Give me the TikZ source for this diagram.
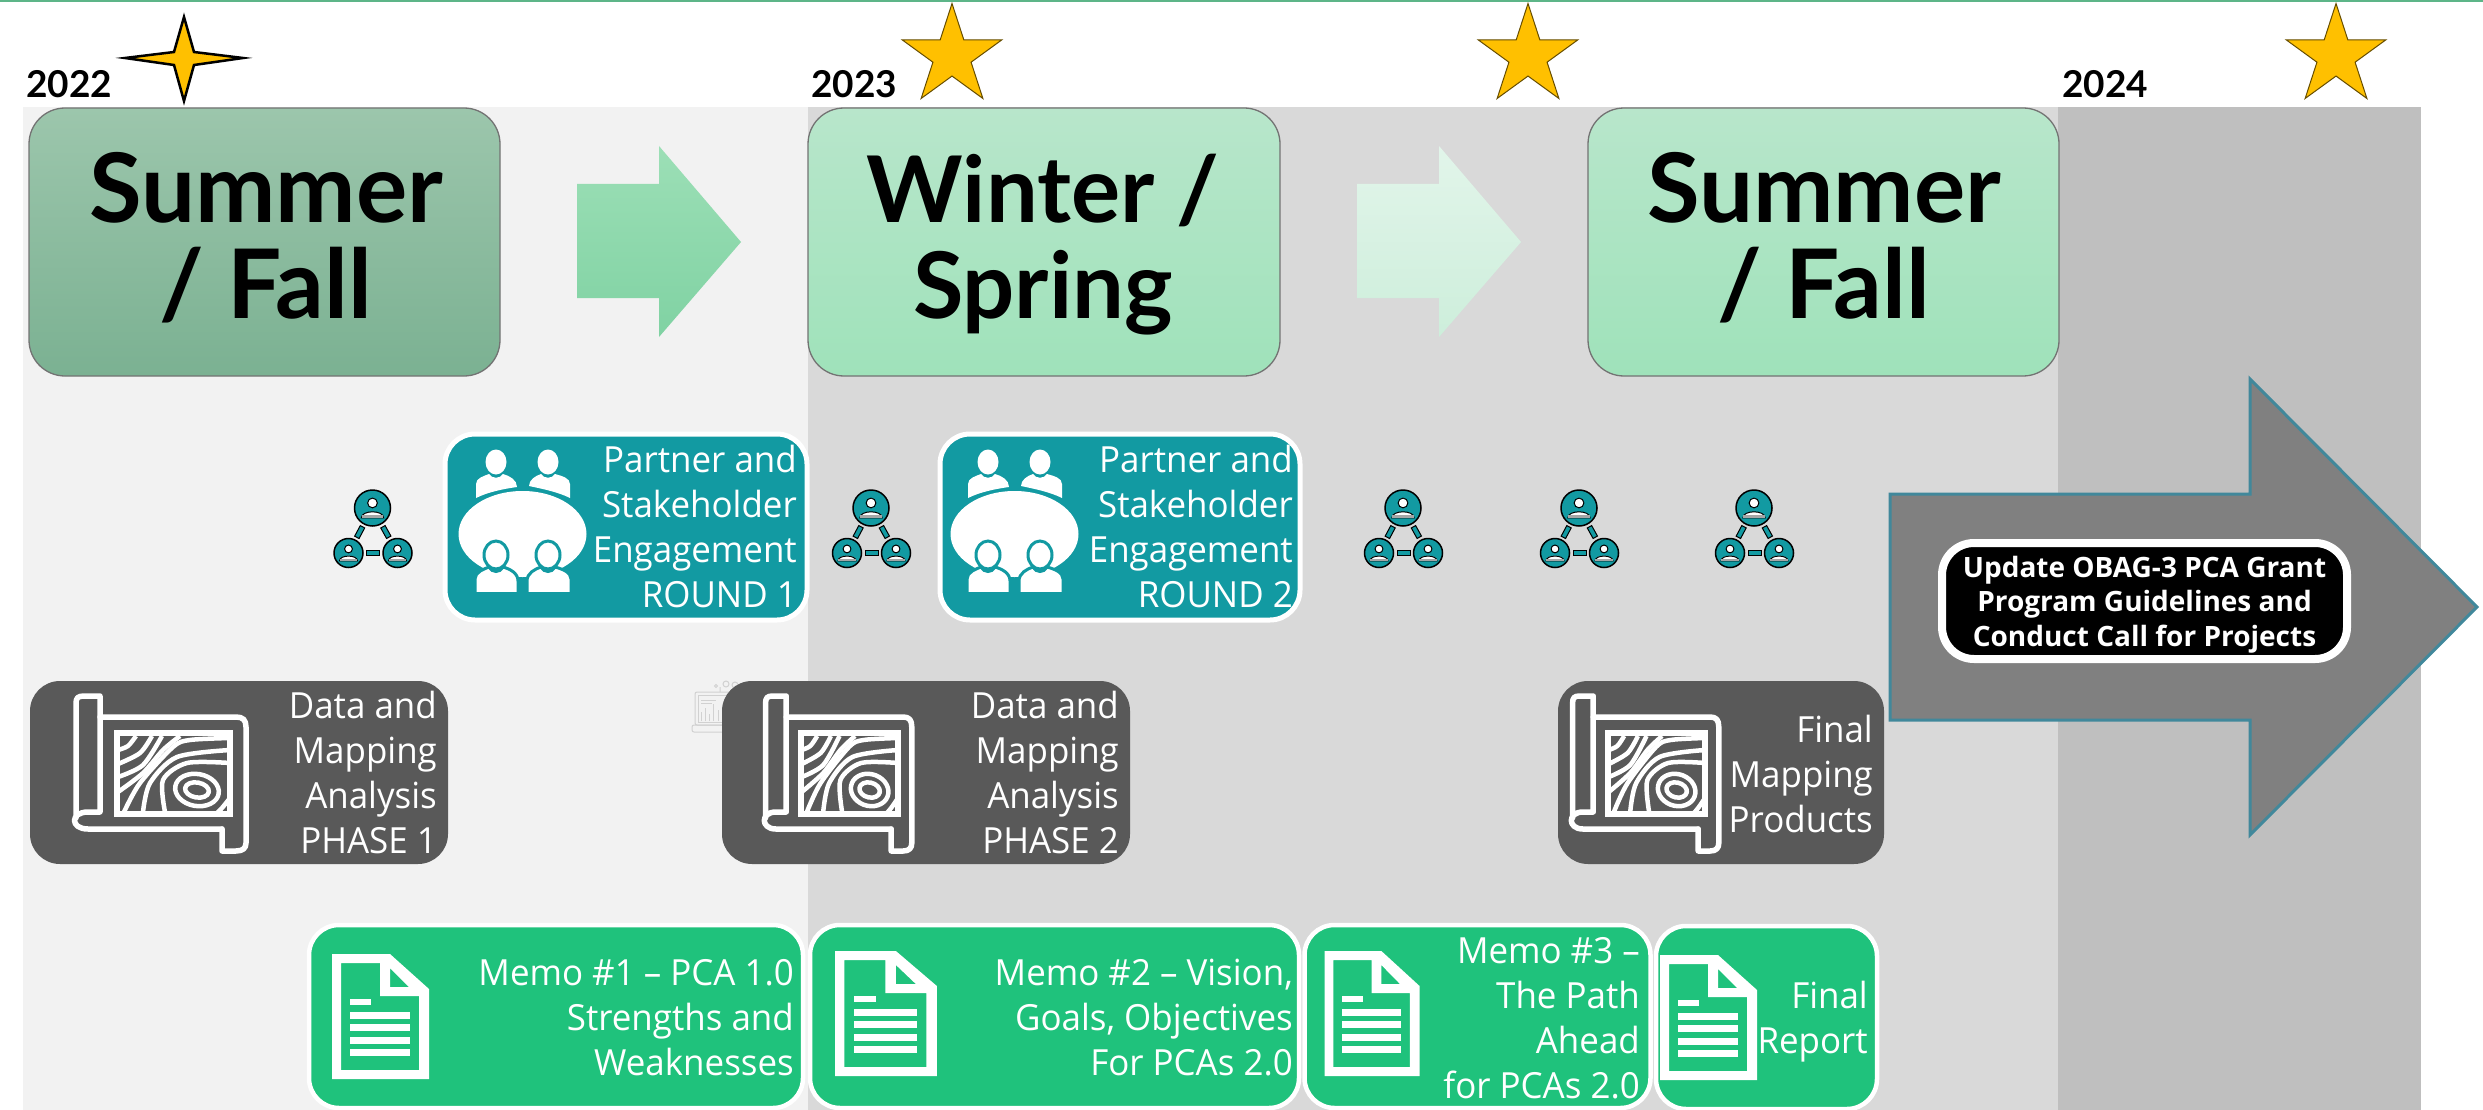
\documentclass[tikz,border=0pt]{standalone}
\usepackage{fontspec}
\setmainfont[FakeStretch=0.97]{Open Sans}
\newfontfamily\callfont{Open Sans}
\newfontfamily\titlefont{Lato}
\usetikzlibrary{shapes.geometric,calc}
\definecolor{teal1}{HTML}{129AA2}
\definecolor{gray1}{HTML}{595959}
\definecolor{green1}{HTML}{1FC27C}
\definecolor{panelA}{HTML}{F2F2F2}
\definecolor{panelB}{HTML}{D9D9D9}
\definecolor{panelC}{HTML}{BFBFBF}
\definecolor{goldstar}{HTML}{FFC000}
\definecolor{rule1}{HTML}{5DB588}
\definecolor{darkA}{HTML}{9CC6AC}
\definecolor{darkB}{HTML}{7BB192}
\definecolor{lightA}{HTML}{B8E6CB}
\definecolor{lightB}{HTML}{9FE2BA}
\definecolor{arrA}{HTML}{9CDFB6}
\definecolor{arrB}{HTML}{80D2A3}
\definecolor{arrC}{HTML}{E2F5EA}
\definecolor{arrD}{HTML}{CDEEDB}
\definecolor{arrowgray}{HTML}{808080}
\definecolor{arrowline}{HTML}{41889B}
\tikzset{
  x=1pt,y=-1pt,
  season/.style={draw=#1,anchor=north west,inner sep=0,outer sep=0,rounded corners=36pt,line width=1.3pt},
  tealbox/.style={draw=white,fill=teal1,line width=5pt,anchor=north west,inner sep=0,outer sep=0,rounded corners=30pt},
  graybox/.style={draw=none,fill=gray1,anchor=north west,inner sep=0,outer sep=0,rounded corners=30pt},
  greenbox/.style={draw=white,fill=green1,line width=4.5pt,anchor=north west,inner sep=0,outer sep=0,rounded corners=30pt},
  blackbox/.style={draw=white,fill=black,line width=8pt,anchor=north west,inner sep=0,outer sep=0,rounded corners=32pt},
  bodytext/.style={text=white,anchor=base east,inner sep=0,align=right,font=\fontsize{36}{45}\selectfont},
  titletext/.style={text=black,anchor=base,inner sep=0,align=center,font=\titlefont\bfseries\fontsize{96}{96}\selectfont},
  yeartext/.style={text=black,anchor=base west,inner sep=0,font=\titlefont\bfseries\fontsize{37}{37}\selectfont},
  fivestar/.style={star,star points=5,star point ratio=2.618,minimum size=105pt,inner sep=0,outer sep=0,fill=goldstar,draw=black!60!goldstar,line width=1pt},
  netc/.style={circle,fill=teal1,draw=black,line width=1.5pt,inner sep=0},
  netl/.style={rectangle,fill=teal1,draw=black,line width=1pt,minimum width=#1,minimum height=5pt,inner sep=0,sloped,midway},
}
\newcommand{\personmark}[3]{%
  \fill[white,draw=black,line width=1pt] (#1,#2-#3*0.28) circle[radius=#3*0.27];
  \fill[white,draw=black,line width=1pt] (#1-#3*0.62,#2+#3*0.55) .. controls (#1-#3*0.62,#2+#3*0.1) and (#1+#3*0.62,#2+#3*0.1) .. (#1+#3*0.62,#2+#3*0.55) -- cycle;
  \fill[black!35] (#1-#3*0.6,#2+#3*0.4) rectangle (#1+#3*0.6,#2+#3*0.55);
}
\newcommand{\neticon}[2]{%
  \node[netc,minimum size=36pt] (#1t) at (#2,508) {};
  \node[netc,minimum size=29pt] (#1l) at (#2-24,553) {};
  \node[netc,minimum size=29pt] (#1r) at (#2+25,553) {};
  \path (#1t) -- (#1l) node[netl=12pt] (#1a) {};
  \path (#1t) -- (#1r) node[netl=12pt] (#1b) {};
  \path (#1l) -- (#1r) node[netl=13pt] (#1c) {};
  \personmark{#2}{508}{18}
  \personmark{#2-24}{553}{14.5}
  \personmark{#2+25}{553}{14.5}
}
\newcommand{\meeting}[2]{%
  \begin{scope}[shift={(#1-443,#2-432)}]
    \fill[white] (496,462) circle[x radius=10.5,y radius=12.5];
    \fill[white] (548,462) circle[x radius=10.5,y radius=12.5];
    \fill[white] (476,498) -- (476,484) .. controls (476,478) and (484,476) .. (489,474) .. controls (492,479) and (500,479) .. (503,474) .. controls (510,476) and (517,480) .. (517,487) .. controls (503,489) and (488,492) .. cycle;
    \fill[white] (570,498) -- (570,484) .. controls (570,478) and (562,476) .. (555,474) .. controls (552,479) and (544,479) .. (541,474) .. controls (535,476) and (529,480) .. (529,486) .. controls (543,489) and (558,492) .. cycle;
    \fill[white] (522.5,534) circle[x radius=64,y radius=43];
    \foreach \cx in {496,548}{
      \fill[white,draw=teal1,line width=3pt] (\cx,555) circle[x radius=12,y radius=14];
    }
    \fill[white,draw=teal1,line width=3pt] (475,594) -- (475,579) .. controls (475,572) and (484,569) .. (489,567) .. controls (492,573) and (500,573) .. (503,567) .. controls (510,569) and (518,573) .. (518,581) -- (518,594) -- cycle;
    \fill[white,draw=teal1,line width=3pt] (527,594) -- (527,581) .. controls (527,573) and (535,569) .. (541,567) .. controls (544,573) and (552,573) .. (555,567) .. controls (562,569) and (571,572) .. (571,579) -- (571,594) -- cycle;
    \fill[teal1] (470,592) rectangle (580,597);
  \end{scope}
}
% #1 left x, #2 top y, #3 horizontal scale
\newcommand{\mapicon}[3]{%
  \begin{scope}[shift={(#1,#2)},xscale=#3,shift={(-73,-693)},white,line width=5.5pt,line join=round,line cap=round]
    \draw (76,818) -- (76,703) .. controls (76,698) and (78,696) .. (84,696) -- (100,696) -- (100,812) -- (88,812) .. controls (70,812) and (70,829) .. (88,829) -- (222,829);
    \draw (100,717) -- (236,717) .. controls (243,717) and (246,720) .. (246,727) -- (246,843) .. controls (246,848) and (243,851) .. (236,851) -- (222,851) -- (222,829);
    \begin{scope}
      \clip (117,733) rectangle (230,814);
      \begin{scope}[line width=4.5pt,line cap=butt]
        \draw plot[smooth] coordinates {(118,750) (128,746) (136,736)};
        \draw plot[smooth] coordinates {(118,764) (140,753) (152,736)};
        \draw plot[smooth] coordinates {(118,777) (143,765) (162,736)};
        \draw plot[smooth] coordinates {(118,792) (143,773) (163,750) (180,736)};
        \draw plot[smooth] coordinates {(124,812) (140,783) (173,747) (190,740) (230,738)};
        \draw plot[smooth] coordinates {(143,812) (150,783) (177,757) (230,750)};
        \draw plot[smooth] coordinates {(165,812) (163,780) (187,763) (230,763)};
        \draw plot[smooth] coordinates {(230,798) (222,808) (216,814)};
        \draw[rotate around={-10:(197,790)}] (197,790) circle[x radius=22,y radius=16];
        \draw[rotate around={-10:(197,790)}] (197,790) circle[x radius=12,y radius=7.5];
      \end{scope}
    \end{scope}
    \draw[line cap=butt,line join=miter] (117,733) rectangle (230,814);
  \end{scope}
}
\newcommand{\docicon}[4]{%
  \begin{scope}[shift={(#1,#2)},xscale=#3,yscale=#4]
    \fill[white,even odd rule] (0,0) -- (58,0) -- (97,35) -- (97,125) -- (0,125) -- cycle
      (9,9) -- (48,9) -- (48,42) -- (87,42) -- (87,116) -- (9,116) -- cycle
      (58,14) -- (77,33) -- (58,33) -- cycle;
    \fill[white] (18,45) rectangle (39,51);
    \foreach \ya/\yb in {58/65,70/77,83/90,95/102}{\fill[white] (18,\ya) rectangle (78,\yb);}
  \end{scope}
}
\begin{document}
\begin{tikzpicture}
\useasboundingbox (0,0) rectangle (2483,1110);
\fill[white] (0,0) rectangle (2483,1110);
\fill[rule1] (0,0) rectangle (2483,2);
% panels
\fill[panelA] (23,107) rectangle (808,1110);
\fill[panelB] (808,107) rectangle (2058,1110);
\fill[panelC] (2058,107) rectangle (2421,1110);
% years
\node[yeartext] (y22) at (26,98) {2022};
\node[yeartext] (y23) at (811,98) {2023};
\node[yeartext] (y24) at (2062,98) {2024};
% stars
\fill[goldstar,draw=black,line width=2.5pt,line join=miter] (184,17) -- (194,52) -- (243,58) -- (194,65) -- (184,101) -- (174,65) -- (125,58) -- (174,52) -- cycle;
\node[fivestar] (s1) at (952,56) {};
\node[fivestar] (s2) at (1528,56) {};
\node[fivestar] (s3) at (2336,56) {};
% season boxes
\node[season=black!55,top color=darkA,bottom color=darkB,minimum width=471pt,minimum height=268pt] (b1) at (29,108) {};
\node[season=black!55,top color=lightA,bottom color=lightB,minimum width=472pt,minimum height=268pt] (b2) at (808,108) {};
\node[season=black!55,top color=lightA,bottom color=lightB,minimum width=471pt,minimum height=268pt] (b3) at (1588,108) {};
\node[titletext] (t1) at (266,318) {Summer\\/ Fall};
\node[titletext,font=\titlefont\bfseries\fontsize{92}{96}\selectfont] (t2) at (1043,318) {Winter /\\Spring};
\node[titletext] (t3) at (1824,318) {Summer\\/ Fall};
% season arrows
\shade[top color=arrA,bottom color=arrB] (577,184) -- (659,184) -- (659,146) -- (741,242) -- (659,337) -- (659,298) -- (577,298) -- cycle;
\shade[top color=arrC,bottom color=arrD] (1357,184) -- (1439,184) -- (1439,146) -- (1521,242) -- (1439,337) -- (1439,298) -- (1357,298) -- cycle;
% network icons
\neticon{na}{372.5}
\neticon{nb}{871}
\neticon{nc}{1403}
\neticon{nd}{1579}
\neticon{ne}{1754}
% engagement boxes
\node[tealbox,minimum width=362pt,minimum height=186pt] (e1) at (445,434) {};
\meeting{443}{432}
\node[bodytext] (e1t) at (797,607) {Partner and\\Stakeholder\\Engagement\\ROUND 1};
\node[tealbox,minimum width=360pt,minimum height=186pt] (e2) at (940,434) {};
\meeting{935}{432}
\node[bodytext] (e2t) at (1293,607) {Partner and\\Stakeholder\\Engagement\\ROUND 2};
% faint laptop picture behind box 2
\begin{scope}[draw=black!18,line width=1pt]
  \draw[rounded corners=2pt] (695,692) rectangle (730,725);
  \draw (698,695) rectangle (727,722);
  \draw[rounded corners=2pt] (692,725) rectangle (735,732);
  \draw (701,721) -- (701,712) (705,721) -- (705,708) (709,721) -- (709,714) (713,721) -- (713,704) (718,721) -- (718,710);
  \draw (701,700) -- (716,700) (701,703) -- (712,703);
  \draw (720,692) -- (720,687) (716,686) circle[radius=1.5] (726,684) circle[radius=3] (735,685) circle[radius=3];
\end{scope}
% mapping boxes
\node[graybox,minimum width=418pt,minimum height=183pt] (m1) at (30,681) {};
\mapicon{73}{693}{1}
\node[bodytext] (m1t) at (437,853) {Data and\\Mapping\\Analysis\\PHASE 1};
\node[graybox,minimum width=408pt,minimum height=183pt] (m2) at (722,681) {};
\mapicon{763}{693}{0.86}
\node[bodytext] (m2t) at (1119,853) {Data and\\Mapping\\Analysis\\PHASE 2};
\node[graybox,minimum width=326pt,minimum height=183pt] (m3) at (1558,681) {};
\mapicon{1570}{693}{0.86}
\node[bodytext] (m3t) at (1873,832) {Final\\Mapping\\Products};
% memo boxes
\node[greenbox,minimum width=494pt,minimum height=183pt] (d1) at (309,925) {};
\docicon{332}{954}{1}{1}
\node[bodytext] (d1t) at (794,1075) {Memo \#1 – PCA 1.0\\Strengths and\\Weaknesses};
\node[greenbox,minimum width=489pt,minimum height=183pt] (d2) at (810,925) {};
\docicon{835}{951}{1.05}{1}
\node[bodytext] (d2t) at (1293,1075) {Memo \#2 – Vision,\\Goals, Objectives\\For PCAs 2.0};
\node[greenbox,minimum width=346pt,minimum height=183pt] (d3) at (1304.5,925) {};
\docicon{1324.5}{951}{0.98}{1}
\node[bodytext] (d3t) at (1640,1098) {Memo \#3 –\\The Path\\Ahead\\for PCAs 2.0};
\node[greenbox,minimum width=221pt,minimum height=183pt] (d4) at (1656,926) {};
\docicon{1660}{955}{1}{1}
\node[bodytext] (d4t) at (1868,1053) {Final\\Report};
% big arrow
\fill[arrowgray,draw=arrowline,line width=3pt,line join=miter] (1890,494) -- (2250,494) -- (2250,379) -- (2477,607) -- (2250,835) -- (2250,720) -- (1890,720) -- cycle;
\node[blackbox,minimum width=405pt,minimum height=116pt] (call) at (1942,543) {};
\node[text=white,inner sep=0,align=center,anchor=base,font=\callfont\bfseries\fontsize{28}{34.5}\selectfont] (callt) at (call.center |- 0,646) {Update OBAG-3 PCA Grant\\Program Guidelines and\\Conduct Call for Projects};
\end{tikzpicture}
\end{document}
